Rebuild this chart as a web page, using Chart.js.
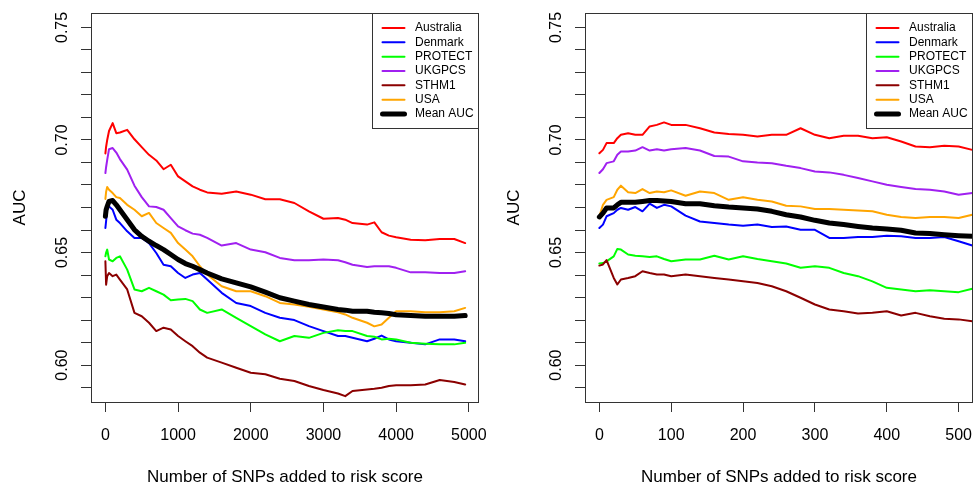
<!DOCTYPE html>
<html><head><meta charset="utf-8">
<script src="https://cdn.jsdelivr.net/npm/chart.js@4"></script>
<style>
html,body{margin:0;padding:0;background:#fff;overflow:hidden;}
#wrap{position:relative;width:974px;height:483px;overflow:hidden;background:#fff;}
canvas{position:absolute;top:0;}
</style></head><body>
<div id="wrap">
<canvas id="left" width="490" height="483" style="left:0;width:490px;height:483px"></canvas>
<canvas id="right" width="490" height="483" style="left:494px;width:490px;height:483px"></canvas>
</div>
<script>
// ---------- data ----------
const SERIES_NAMES = ['Australia', 'Denmark', 'PROTECT', 'UKGPCS', 'STHM1', 'USA', 'Mean AUC'];
const SERIES_COLORS = ['#FF0000', '#0000FF', '#00FF00', '#A020F0', '#8B0000', '#FFA500', '#000000'];

// Left panel: first 5000 SNPs
const X_LEFT = [0, 10, 25, 50, 100, 150, 200, 300, 400, 500, 600, 700, 800, 900, 1000, 1100, 1200, 1300, 1400, 1600, 1800, 2000, 2200, 2400, 2600, 2800, 3000, 3200, 3300, 3400, 3600, 3700, 3800, 3900, 4000, 4200, 4400, 4600, 4800, 4950];
const AUSTRALIA_LEFT = [0.694, 0.697, 0.700, 0.704, 0.7075, 0.703, 0.7033, 0.7045, 0.7003, 0.6968, 0.6934, 0.6909, 0.687, 0.689, 0.6838, 0.6816, 0.6794, 0.6779, 0.6767, 0.6761, 0.6771, 0.6757, 0.6737, 0.6737, 0.672, 0.6683, 0.665, 0.6653, 0.6646, 0.6631, 0.6624, 0.6634, 0.659, 0.6575, 0.6568, 0.6557, 0.6554, 0.656, 0.656, 0.6542];
const DENMARK_LEFT = [0.6609, 0.664, 0.669, 0.6705, 0.669, 0.6646, 0.6631, 0.6594, 0.6565, 0.6565, 0.6542, 0.6498, 0.6446, 0.6439, 0.6409, 0.6387, 0.6402, 0.6409, 0.638, 0.6321, 0.6276, 0.6262, 0.6232, 0.621, 0.62, 0.6173, 0.6151, 0.6129, 0.6129, 0.6121, 0.6106, 0.6117, 0.6131, 0.6114, 0.6106, 0.6099, 0.6092, 0.6114, 0.6114, 0.6106];
const PROTECT_LEFT = [0.6483, 0.650, 0.6513, 0.6469, 0.6461, 0.6476, 0.6483, 0.6424, 0.6336, 0.6328, 0.6343, 0.6328, 0.6313, 0.6288, 0.6291, 0.6294, 0.6284, 0.6247, 0.6232, 0.6247, 0.621, 0.6173, 0.6136, 0.6106, 0.6129, 0.6121, 0.6143, 0.6155, 0.6151, 0.6151, 0.6129, 0.6126, 0.6114, 0.6117, 0.6114, 0.6099, 0.6095, 0.6092, 0.6092, 0.6099];
const UKGPCS_LEFT = [0.6853, 0.688, 0.6912, 0.6959, 0.6964, 0.6944, 0.6915, 0.6868, 0.6797, 0.6746, 0.6705, 0.6702, 0.669, 0.6653, 0.6616, 0.6599, 0.6584, 0.6579, 0.6565, 0.6531, 0.6542, 0.6513, 0.6501, 0.6476, 0.6466, 0.6466, 0.6469, 0.6466, 0.6457, 0.6446, 0.6436, 0.6439, 0.6439, 0.6439, 0.6432, 0.6412, 0.6412, 0.6409, 0.6409, 0.6417];
const STHM1_LEFT = [0.6461, 0.6357, 0.6395, 0.6409, 0.6395, 0.6402, 0.638, 0.6336, 0.6232, 0.6217, 0.6188, 0.6151, 0.6166, 0.6158, 0.6129, 0.6106, 0.6084, 0.6055, 0.6033, 0.6011, 0.5988, 0.5966, 0.5959, 0.5939, 0.5929, 0.5907, 0.5889, 0.5874, 0.5862, 0.5885, 0.5892, 0.5895, 0.5899, 0.5907, 0.591, 0.591, 0.5914, 0.5934, 0.5925, 0.5914];
const USA_LEFT = [0.6738, 0.677, 0.6791, 0.6779, 0.6764, 0.6746, 0.6742, 0.6712, 0.669, 0.6661, 0.6676, 0.6631, 0.6609, 0.6587, 0.6542, 0.6513, 0.6483, 0.6439, 0.6402, 0.635, 0.6328, 0.6328, 0.6306, 0.6276, 0.6269, 0.6259, 0.6247, 0.6235, 0.6225, 0.621, 0.6188, 0.6172, 0.618, 0.621, 0.6239, 0.6239, 0.6235, 0.6235, 0.6239, 0.6254];
const MEAN_LEFT = [0.6661, 0.669, 0.6705, 0.6727, 0.6731, 0.6712, 0.669, 0.6646, 0.6601, 0.6572, 0.655, 0.6531, 0.6513, 0.6491, 0.6469, 0.6451, 0.6439, 0.6424, 0.6409, 0.6383, 0.6365, 0.6347, 0.6324, 0.6299, 0.6284, 0.6269, 0.6258, 0.6247, 0.6244, 0.6239, 0.6239, 0.6235, 0.6232, 0.6229, 0.6224, 0.622, 0.6217, 0.6217, 0.6217, 0.622];

// Right panel: first 500 SNPs
const X_RIGHT = [0, 5, 10, 20, 25, 30, 40, 50, 60, 70, 80, 90, 100, 120, 140, 160, 180, 200, 220, 240, 260, 280, 300, 320, 340, 360, 380, 400, 420, 440, 460, 480, 500, 519];
const AUSTRALIA_RIGHT = [0.6941, 0.6956, 0.6986, 0.6986, 0.7008, 0.7023, 0.703, 0.7023, 0.7023, 0.706, 0.7067, 0.7078, 0.7067, 0.7067, 0.7052, 0.7033, 0.7027, 0.7023, 0.7015, 0.7023, 0.7023, 0.7052, 0.7023, 0.7008, 0.7019, 0.7019, 0.7008, 0.7012, 0.6993, 0.6971, 0.6968, 0.6974, 0.6971, 0.6956];
const DENMARK_RIGHT = [0.6609, 0.6624, 0.6661, 0.6675, 0.669, 0.6698, 0.669, 0.6702, 0.6683, 0.6717, 0.6698, 0.6712, 0.6705, 0.6664, 0.6638, 0.6631, 0.6624, 0.6619, 0.6624, 0.6613, 0.6616, 0.6601, 0.6601, 0.6565, 0.6565, 0.6569, 0.6569, 0.6575, 0.6572, 0.6565, 0.6565, 0.6569, 0.655, 0.6531];
const PROTECT_RIGHT = [0.6451, 0.6453, 0.6461, 0.6483, 0.6516, 0.6513, 0.6491, 0.6486, 0.6483, 0.648, 0.6483, 0.6471, 0.6461, 0.6469, 0.6469, 0.6486, 0.6469, 0.6483, 0.6471, 0.6461, 0.6451, 0.6432, 0.6439, 0.6432, 0.6409, 0.6395, 0.6372, 0.6343, 0.6336, 0.6328, 0.6332, 0.6328, 0.6324, 0.6339];
const UKGPCS_RIGHT = [0.6853, 0.687, 0.6897, 0.6905, 0.6934, 0.6949, 0.6949, 0.6953, 0.6968, 0.6953, 0.6959, 0.6953, 0.6959, 0.6964, 0.6953, 0.6929, 0.6926, 0.6905, 0.69, 0.6897, 0.6885, 0.6875, 0.686, 0.6856, 0.6845, 0.6831, 0.6816, 0.6801, 0.6791, 0.6782, 0.6779, 0.6771, 0.6757, 0.6764];
const STHM1_RIGHT = [0.6442, 0.6447, 0.6466, 0.6387, 0.6358, 0.638, 0.6387, 0.6395, 0.6417, 0.6409, 0.6402, 0.6402, 0.6395, 0.6402, 0.6395, 0.6387, 0.638, 0.6372, 0.6365, 0.635, 0.6328, 0.6299, 0.6269, 0.6247, 0.6239, 0.6229, 0.6232, 0.6239, 0.622, 0.6232, 0.6217, 0.6206, 0.6203, 0.6195];
const USA_RIGHT = [0.6661, 0.6712, 0.6734, 0.6746, 0.6779, 0.6797, 0.6768, 0.6764, 0.6782, 0.6764, 0.6771, 0.6768, 0.6776, 0.6752, 0.6771, 0.6764, 0.6734, 0.6746, 0.6734, 0.6727, 0.6708, 0.6705, 0.6693, 0.6693, 0.669, 0.6687, 0.6683, 0.6668, 0.6658, 0.6653, 0.6658, 0.6658, 0.6653, 0.6668];
const MEAN_RIGHT = [0.6658, 0.6675, 0.6698, 0.6698, 0.6712, 0.6723, 0.6723, 0.6723, 0.6727, 0.6731, 0.6731, 0.6729, 0.6727, 0.6717, 0.6717, 0.6708, 0.6702, 0.6698, 0.6693, 0.6683, 0.6668, 0.6658, 0.6643, 0.6631, 0.6624, 0.6616, 0.6609, 0.6605, 0.6599, 0.6587, 0.6584, 0.6579, 0.6575, 0.6572];

// Axis ranges and ticks
const X_RANGE_LEFT = [-198, 5140];
const X_RANGE_RIGHT = [-20, 520];
const X_TICKS_LEFT = [0, 1000, 2000, 3000, 4000, 5000];
const X_TICKS_RIGHT = [0, 100, 200, 300, 400, 500];
const Y_RANGE = [0.5836, 0.7564];
const Y_TICKS = [0.59, 0.60, 0.61, 0.62, 0.63, 0.64, 0.65, 0.66, 0.67, 0.68, 0.69, 0.70, 0.71, 0.72, 0.73, 0.74, 0.75];
const Y_TICK_LABELS = ['0.60', '0.65', '0.70', '0.75'];
const X_TITLE = 'Number of SNPs added to risk score';
const Y_TITLE = 'AUC';

// ---------- drawing ----------
const FONT = '"Liberation Sans", Arial, Helvetica, sans-serif';
const AXIS_COLOR = '#333333';

const framePlugin = {
  id: 'frameAndLegend',
  afterDraw(chart) {
    const ctx = chart.ctx, ca = chart.chartArea;
    ctx.save();
    ctx.strokeStyle = AXIS_COLOR;
    ctx.lineWidth = 1;
    ctx.strokeRect(Math.round(ca.left) + 0.5, Math.round(ca.top) + 0.5,
                   Math.round(ca.right - ca.left) - 1, Math.round(ca.bottom - ca.top));
    // legend box
    const lx = Math.round(ca.right - 107), ly = Math.round(ca.top), lh = 115;
    ctx.fillStyle = '#ffffff';
    ctx.fillRect(lx, ly, ca.right - lx, lh);
    ctx.strokeRect(lx + 0.5, ly + 0.5, Math.round(ca.right - lx) - 1, lh);
    ctx.font = '12px ' + FONT;
    ctx.textBaseline = 'middle';
    ctx.textAlign = 'left';
    chart.data.datasets.forEach((ds, i) => {
      const y = ly + 15 + i * 14.33;
      ctx.strokeStyle = ds.borderColor;
      ctx.lineWidth = ds.borderWidth;
      ctx.lineCap = 'round';
      ctx.beginPath();
      ctx.moveTo(lx + 10.5, y);
      ctx.lineTo(lx + 32.5, y);
      ctx.stroke();
      ctx.fillStyle = '#000';
      ctx.fillText(ds.label, lx + 43, y);
    });
    ctx.restore();
  }
};

function makeChart(id, xs, series, xRange, xTicks) {
  const datasets = series.map((vals, i) => ({
    label: SERIES_NAMES[i],
    data: xs.map((x, j) => ({x: x, y: vals[j]})),
    borderColor: SERIES_COLORS[i],
    backgroundColor: SERIES_COLORS[i],
    borderWidth: i === 6 ? 5 : 2,
    pointRadius: 0,
    tension: 0,
    borderJoinStyle: 'round',
    borderCapStyle: 'round',
    order: series.length - 1 - i
  }));
  return new Chart(document.getElementById(id), {
    type: 'line',
    data: {datasets},
    options: {
      responsive: false,
      animation: false,
      layout: {padding: {top: 13, right: 11, left: 0, bottom: 0}},
      plugins: {legend: {display: false}, tooltip: {enabled: false}},
      scales: {
        x: {
          type: 'linear',
          min: xRange[0], max: xRange[1],
          bounds: 'data',
          afterBuildTicks: (s) => { s.ticks = xTicks.map(v => ({value: v})); },
          afterFit: (s) => { s.height = 81; s.paddingLeft = 0; s.paddingRight = 0; },
          border: {display: false},
          grid: {display: true, drawOnChartArea: false, drawTicks: true, tickLength: 10, color: AXIS_COLOR, tickColor: AXIS_COLOR, lineWidth: 1},
          ticks: {autoSkip: false, maxRotation: 0, minRotation: 0, padding: 14, color: '#000', font: {family: FONT, size: 16},
                  callback: (v) => String(v)},
          title: {display: true, text: X_TITLE, color: '#000', font: {family: FONT, size: 17, lineHeight: 1}, padding: {top: 0, bottom: -3}}
        },
        y: {
          type: 'linear',
          min: Y_RANGE[0], max: Y_RANGE[1],
          bounds: 'data',
          afterBuildTicks: (s) => { s.ticks = Y_TICKS.map(v => ({value: v})); },
          afterFit: (s) => { s.width = 91; s.paddingTop = 0; s.paddingBottom = 0; },
          border: {display: false},
          grid: {display: true, drawOnChartArea: false, drawTicks: true, tickLength: 10, color: AXIS_COLOR, tickColor: AXIS_COLOR, lineWidth: 1},
          ticks: {autoSkip: false, minRotation: 90, maxRotation: 90, crossAlign: 'center', padding: 3, color: '#000', font: {family: FONT, size: 16},
                  callback: (v) => { const t = Number(v).toFixed(2); return Y_TICK_LABELS.includes(t) ? t : ''; }},
          title: {display: true, text: Y_TITLE, color: '#000', font: {family: FONT, size: 17}, padding: {top: 10, bottom: 0}}
        }
      }
    },
    plugins: [framePlugin]
  });
}

makeChart('left', X_LEFT,
  [AUSTRALIA_LEFT, DENMARK_LEFT, PROTECT_LEFT, UKGPCS_LEFT, STHM1_LEFT, USA_LEFT, MEAN_LEFT],
  X_RANGE_LEFT, X_TICKS_LEFT);
makeChart('right', X_RIGHT,
  [AUSTRALIA_RIGHT, DENMARK_RIGHT, PROTECT_RIGHT, UKGPCS_RIGHT, STHM1_RIGHT, USA_RIGHT, MEAN_RIGHT],
  X_RANGE_RIGHT, X_TICKS_RIGHT);
</script>
</body></html>
